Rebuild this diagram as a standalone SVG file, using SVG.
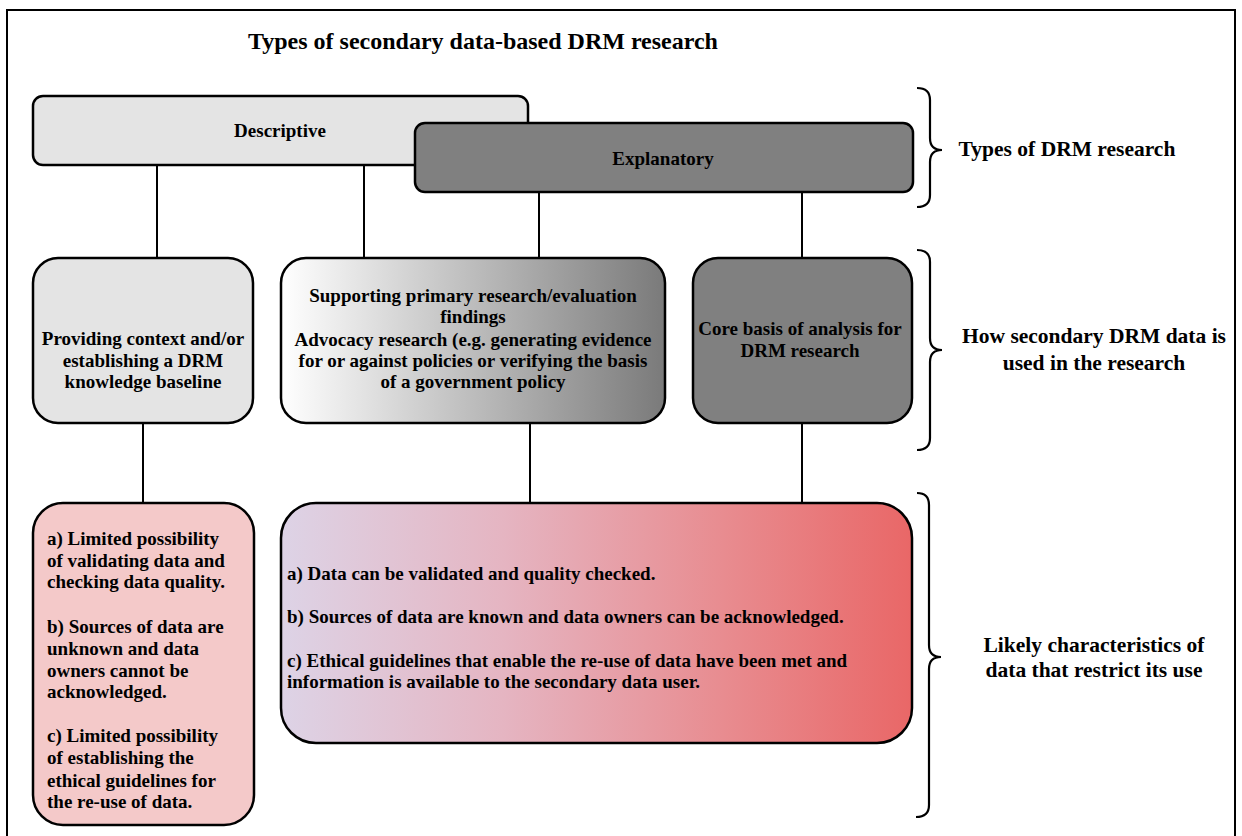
<svg xmlns="http://www.w3.org/2000/svg" width="1242" height="836" viewBox="0 0 1242 836">
<defs>
<linearGradient id="gGray" x1="0" y1="0" x2="1" y2="0">
<stop offset="0" stop-color="#ffffff"/>
<stop offset="1" stop-color="#7a7a7a"/>
</linearGradient>
<linearGradient id="gRed" x1="0" y1="0" x2="1" y2="0">
<stop offset="0" stop-color="#ddd3e6"/>
<stop offset="0.35" stop-color="#e5b5c2"/>
<stop offset="0.7" stop-color="#e88c90"/>
<stop offset="1" stop-color="#e96767"/>
</linearGradient>
<style>
.box{stroke:#000;stroke-width:2.5}
.t{font-family:"Liberation Serif","Times New Roman",serif;font-weight:bold;fill:#000}
.c{text-anchor:middle}
.conn line{stroke:#000;stroke-width:2}
.brace{fill:none;stroke:#000;stroke-width:2.2}
</style>
</defs>
<rect x="0" y="0" width="1242" height="836" fill="#fff"/>
<path d="M7,836 L7,10 L1235,10 L1235,836" fill="none" stroke="#000" stroke-width="2"/>
<text class="t" x="248" y="49" font-size="24">Types of secondary data-based DRM research</text>

<g id="conns" class="conn">
<line x1="157" y1="165" x2="157" y2="258"/>
<line x1="364" y1="165" x2="364" y2="258"/>
<line x1="539" y1="192" x2="539" y2="258"/>
<line x1="802" y1="192" x2="802" y2="258"/>
<line x1="143" y1="423" x2="143" y2="503"/>
<line x1="530" y1="423" x2="530" y2="503"/>
<line x1="802" y1="423" x2="802" y2="503"/>
</g>

<g id="descriptive">
<rect class="box" x="33" y="96" width="495" height="69" rx="10" fill="#e4e4e4"/>
<text class="t c" x="280" y="137" font-size="19">Descriptive</text>
</g>
<g id="explanatory">
<rect class="box" x="415" y="123" width="498" height="69" rx="10" fill="#808080"/>
<text class="t c" x="663" y="165" font-size="19">Explanatory</text>
</g>

<g id="context">
<rect class="box" x="33" y="258" width="220" height="165" rx="25" fill="#e4e4e4"/>
<text class="t c" x="143" font-size="19"><tspan x="143" y="345">Providing context and/or</tspan><tspan x="143" y="367">establishing a DRM</tspan><tspan x="143" y="388">knowledge baseline</tspan></text>
</g>
<g id="supporting">
<rect class="box" x="281" y="258" width="384" height="165" rx="25" fill="url(#gGray)"/>
<text class="t c" font-size="19"><tspan x="473" y="302">Supporting primary research/evaluation</tspan><tspan x="473" y="323">findings</tspan><tspan x="473" y="346">Advocacy research (e.g. generating evidence</tspan><tspan x="473" y="367">for or against policies or verifying the basis</tspan><tspan x="473" y="388">of a government policy</tspan></text>
</g>
<g id="core">
<rect class="box" x="693" y="258" width="219" height="165" rx="25" fill="#808080"/>
<text class="t c" font-size="19"><tspan x="800" y="335">Core basis of analysis for</tspan><tspan x="800" y="357">DRM research</tspan></text>
</g>

<g id="limited">
<rect class="box" x="33" y="503" width="221" height="322" rx="30" fill="#f4c9c9"/>
<text class="t" font-size="19"><tspan x="47" y="545">a) Limited possibility</tspan><tspan x="47" y="567">of validating data and</tspan><tspan x="47" y="588">checking data quality.</tspan><tspan x="47" y="633">b) Sources of data are</tspan><tspan x="47" y="655">unknown and data</tspan><tspan x="47" y="677">owners cannot be</tspan><tspan x="47" y="698">acknowledged.</tspan><tspan x="47" y="742">c) Limited possibility</tspan><tspan x="47" y="764">of establishing the</tspan><tspan x="47" y="787">ethical guidelines for</tspan><tspan x="47" y="808">the re-use of data.</tspan></text>
</g>
<g id="validated">
<rect class="box" x="281" y="503" width="631" height="240" rx="35" fill="url(#gRed)"/>
<text class="t" font-size="19"><tspan x="287" y="580">a) Data can be validated and quality checked.</tspan><tspan x="287" y="623">b) Sources of data are known and data owners can be acknowledged.</tspan><tspan x="287" y="667">c) Ethical guidelines that enable the re-use of data have been met and</tspan><tspan x="287" y="688">information is available to the secondary data user.</tspan></text>
</g>

<g id="brace1">
<path class="brace" d="M917,88 Q930,88 930,100 L930,138 Q930,150 942,150 Q930,150 930,162 L930,195 Q930,207 917,207"/>
<text class="t c" x="1067" y="156" font-size="21.5">Types of DRM research</text>
</g>
<g id="brace2">
<path class="brace" d="M917,250 Q930,250 930,262 L930,338 Q930,350 942,350 Q930,350 930,362 L930,438 Q930,450 917,450"/>
<text class="t c" font-size="21.5"><tspan x="1094" y="343">How secondary DRM data is</tspan><tspan x="1094" y="370">used in the research</tspan></text>
</g>
<g id="brace3">
<path class="brace" d="M917,493 Q929,493 929,505 L929,645 Q929,657 941,657 Q929,657 929,669 L929,805 Q929,817 916,817"/>
<text class="t c" font-size="21.5"><tspan x="1094" y="652">Likely characteristics of</tspan><tspan x="1094" y="677">data that restrict its use</tspan></text>
</g>
</svg>
